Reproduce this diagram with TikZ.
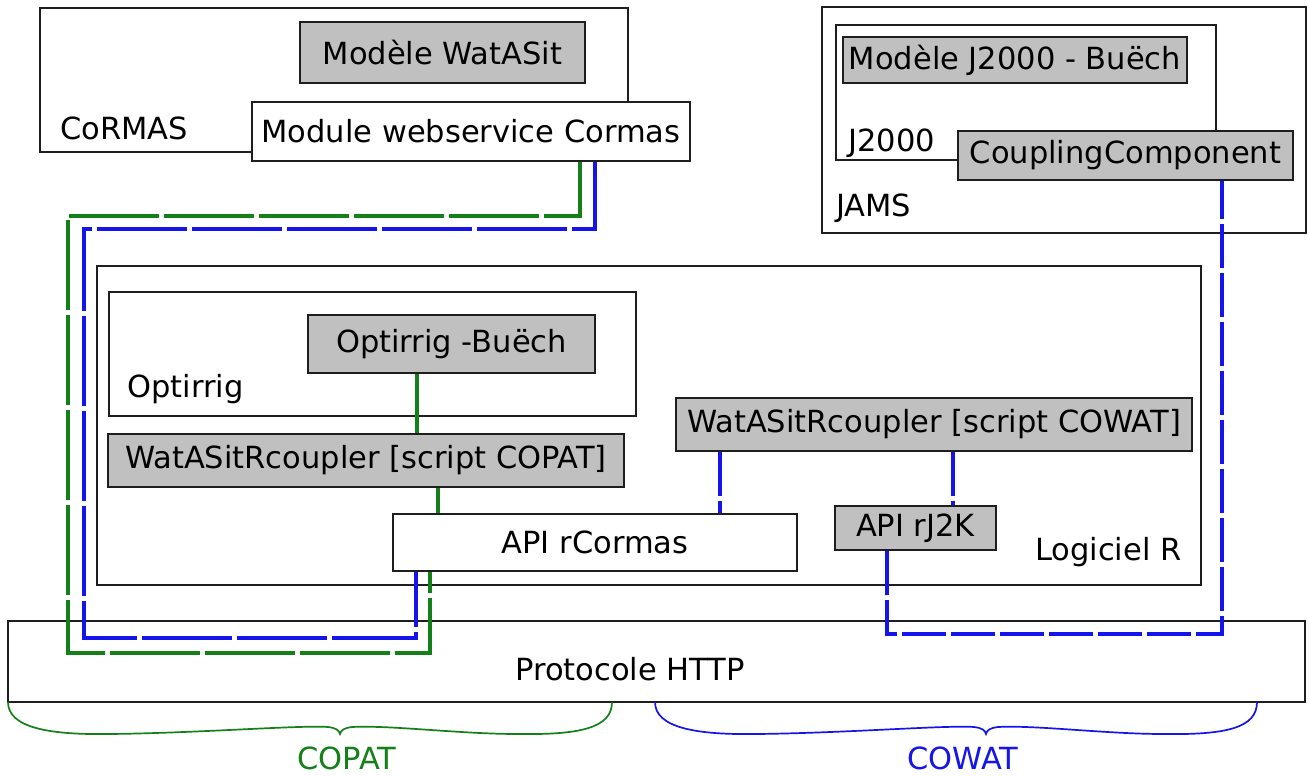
\documentclass[tikz,border=0pt]{standalone}
\usepackage{fontspec}
\setmainfont{DejaVu Sans}
\definecolor{cgreen}{RGB}{20,128,25}
\definecolor{cblue}{RGB}{20,20,235}
\definecolor{boxgray}{RGB}{192,192,192}
\definecolor{edge}{RGB}{30,30,30}
\begin{document}
\begin{tikzpicture}[x=1pt,y=-1pt,
  every node/.style={font=\fontsize{30.5}{36}\selectfont, inner sep=0pt},
  frame/.style={draw=edge, line width=1.8pt, fill=white},
  graybox/.style={frame, fill=boxgray},
  lbl/.style={anchor=base west},
  gline/.style={cgreen, line width=3.2pt},
  bline/.style={cblue, line width=3.2pt},
  longdash/.style={dash pattern=on 90pt off 5pt},
  shortdash/.style={dash pattern=on 44pt off 5pt},
  bracepath/.style={line width=1.7pt}]
\useasboundingbox (0,0) rectangle (1309,776);

% CoRMAS
\node[frame, minimum width=588pt, minimum height=144pt] (cormas) at (334,80) {};
\node[lbl] (cormaslbl) at (60,139) {CoRMAS};
\node[graybox, minimum width=285pt, minimum height=61pt] (watasit) at (442.5,52.5) {Modèle WatASit};
\node[frame, minimum width=438pt, minimum height=59pt] (modws) at (471,131.5) {Module webservice Cormas};

% JAMS
\node[frame, minimum width=484pt, minimum height=226pt] (jams) at (1064,120) {};
\node[lbl] (jamslbl) at (836,216) {JAMS};
\node[frame, minimum width=380pt, minimum height=135pt] (j2000) at (1026,92.5) {};
\node[lbl] (j2000lbl) at (848,151) {J2000};
\node[graybox, minimum width=344pt, minimum height=46pt] (modj) at (1015,60) {Modèle J2000 - Buëch};
\node[graybox, minimum width=335pt, minimum height=49pt] (coupling) at (1125.5,155.5) {CouplingComponent};

% Logiciel R
\node[frame, minimum width=1104pt, minimum height=319pt] (logr) at (649,425.5) {};
\node[lbl] (logrlbl) at (1035,560) {Logiciel R};
\node[frame, minimum width=527pt, minimum height=124pt] (optirrig) at (372.5,354) {};
\node[lbl] (optlbl) at (127,397) {Optirrig};
\node[graybox, minimum width=287pt, minimum height=58pt] (optb) at (451.5,344) {Optirrig -Buëch};
\node[graybox, minimum width=516pt, minimum height=53pt] (copat) at (366,460.5) {WatASitRcoupler [script COPAT]};
\node[graybox, minimum width=516pt, minimum height=53pt] (cowat) at (934,424.5) {WatASitRcoupler [script COWAT]};
\node[frame, minimum width=404pt, minimum height=57pt] (rcormas) at (595,542.5) {API rCormas};
\node[graybox, minimum width=161pt, minimum height=44pt] (rj2k) at (915.5,528) {API rJ2K};

% HTTP
\node[frame, minimum width=1297pt, minimum height=81pt] (http) at (656.5,661.5) {};
\node (httplbl) at (630,669) {Protocole HTTP};

% coordinates for connectors
\coordinate (g1) at (580,216);
\coordinate (g2) at (68,216);
\coordinate (g3) at (68,653);
\coordinate (g4) at (430,653);
\coordinate (b1) at (595,229);
\coordinate (b2) at (84,229);
\coordinate (b3) at (84,638);
\coordinate (b4) at (416,638);
\coordinate (w1) at (887,634);
\coordinate (w2) at (1222,634);
\coordinate (s1) at (417,0);
\coordinate (s2) at (438,0);
\coordinate (s3) at (720,0);
\coordinate (s4) at (953,0);

% COPAT connectors
\draw[gline, longdash] (modws.south -| g1) -- (g1) -- (g2) -- (g3) -- (g4) -- (rcormas.south -| g4);
\draw[bline, longdash] (modws.south -| b1) -- (b1) -- (b2) -- (b3) -- (b4) -- (rcormas.south -| b4);
\draw[gline] (optb.south -| s1) -- (copat.north -| s1);
\draw[gline] (copat.south -| s2) -- (rcormas.north -| s2);

% COWAT connectors
\draw[bline, shortdash] (cowat.south -| s3) -- (rcormas.north -| s3);
\draw[bline, shortdash] (cowat.south -| s4) -- (rj2k.north -| s4);
\draw[bline, shortdash] (rj2k.south -| w1) -- (w1) -- (w2) -- (coupling.south -| w2);

% braces
\draw[bracepath, cgreen] (8,702) .. controls (8,728) and (50,735) .. (110,734)
  .. controls (200,733) and (300,725) .. (328,727)
  .. controls (336,728) and (339,730) .. (340,734)
  .. controls (341,730) and (344,728) .. (352,727)
  .. controls (390,725) and (460,734) .. (517,734)
  .. controls (580,735) and (612,728) .. (612,702);
\draw[bracepath, cblue] (655,702) .. controls (655,728) and (697,735) .. (757,734)
  .. controls (847,733) and (947,725) .. (974,727)
  .. controls (982,728) and (985,730) .. (986,734)
  .. controls (987,730) and (990,728) .. (998,727)
  .. controls (1036,725) and (1106,734) .. (1163,734)
  .. controls (1226,735) and (1257,728) .. (1257,702);
\node[text=cgreen] (copatlbl) at (347,758) {COPAT};
\node[text=cblue] (cowatlbl) at (963,758) {COWAT};
\end{tikzpicture}
\end{document}
